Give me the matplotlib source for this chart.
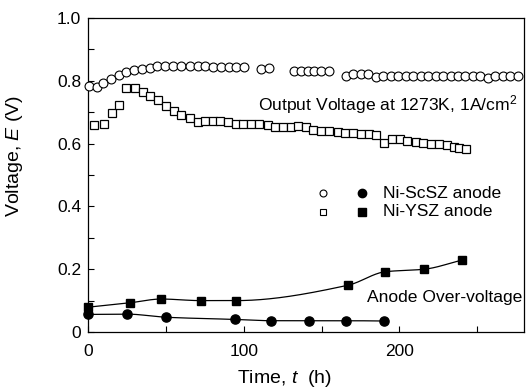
import numpy as np
import matplotlib
matplotlib.use("Agg")
import matplotlib.pyplot as plt

plt.rcParams['font.family'] = ['Liberation Sans', 'DejaVu Sans']
plt.rcParams['mathtext.fontset'] = 'custom'
plt.rcParams['mathtext.it'] = 'Liberation Sans:italic'
plt.rcParams['mathtext.rm'] = 'Liberation Sans'

# Output voltage, Ni-ScSZ anode (open circles)
t_scsz_out = [0.6, 5.5, 9.8, 14.7, 19.8, 24.7, 29.6, 34.7, 39.7, 44.6, 49.3, 54.6, 60.0,
              65.3, 70.6, 75.3, 80.2, 85.1, 90.3, 95.2, 100.0, 111.0, 116.5,
              132.5, 136.8, 141.0, 145.3, 149.6, 154.5,
              165.6, 170.3, 175.2, 180.0, 184.8, 189.5, 194.4, 199.2, 204.0, 208.8,
              213.6, 218.4, 223.2, 228.0, 232.8, 237.6, 242.4, 247.2, 252.0, 256.9,
              261.6, 266.4, 271.2, 276.0]
v_scsz_out = [0.783, 0.781, 0.794, 0.806, 0.818, 0.829, 0.834, 0.838, 0.840, 0.848, 0.848,
              0.848, 0.848, 0.847, 0.848, 0.847, 0.845, 0.843, 0.843, 0.843, 0.843,
              0.838, 0.840,
              0.831, 0.831, 0.831, 0.831, 0.831, 0.831,
              0.816, 0.821, 0.822, 0.821, 0.813, 0.816, 0.816, 0.816, 0.816, 0.816,
              0.816, 0.816, 0.816, 0.816, 0.816, 0.816, 0.816, 0.816, 0.815, 0.808,
              0.814, 0.816, 0.816, 0.816]

# Output voltage, Ni-YSZ anode (open squares)
t_ysz_out = [4.0, 10.2, 15.2, 20.0, 24.7, 30.0, 35.0, 40.0, 45.0, 50.0, 55.0, 60.0, 65.3,
             70.6, 75.0, 80.0, 85.0, 90.0, 95.0, 99.5, 104.7, 110.0, 115.5, 120.4, 125.0,
             130.4, 135.0, 140.0, 144.7, 149.6, 155.0, 160.3, 165.0, 170.0, 175.0, 180.5,
             184.8, 190.0, 195.5, 200.4, 205.0, 210.4, 215.3, 220.0, 225.4, 230.3, 235.0,
             238.0, 242.8]
v_ysz_out = [0.659, 0.662, 0.696, 0.723, 0.778, 0.776, 0.765, 0.753, 0.739, 0.721, 0.704,
             0.691, 0.683, 0.670, 0.672, 0.672, 0.672, 0.670, 0.664, 0.662, 0.662, 0.662,
             0.659, 0.654, 0.654, 0.654, 0.656, 0.654, 0.643, 0.641, 0.640, 0.638, 0.633,
             0.633, 0.629, 0.629, 0.627, 0.603, 0.614, 0.614, 0.609, 0.605, 0.601, 0.599,
             0.598, 0.594, 0.590, 0.585, 0.582]

# Anode over-voltage, Ni-YSZ (filled squares)
t_ysz_ov = [0.0, 27.0, 47.0, 72.3, 95.0, 167.0, 191.0, 216.0, 240.0]
v_ysz_ov = [0.079, 0.093, 0.105, 0.100, 0.100, 0.149, 0.192, 0.200, 0.229]

# Anode over-voltage, Ni-ScSZ (filled circles)
t_scsz_ov = [0.0, 25.0, 50.0, 94.5, 117.6, 141.7, 166.0, 190.0]
v_scsz_ov = [0.056, 0.057, 0.047, 0.040, 0.036, 0.036, 0.036, 0.035]

xticks = [0, 100, 200]
yticks = [0.0, 0.2, 0.4, 0.6, 0.8, 1.0]
ytick_labels = ['0', '0.2', '0.4', '0.6', '0.8', '1.0']


def pchip(x, y, xs):
    x = np.asarray(x, float); y = np.asarray(y, float)
    h = np.diff(x); d = np.diff(y) / h
    n = len(x); m = np.zeros(n)
    for k in range(1, n - 1):
        if d[k - 1] * d[k] > 0:
            w1 = 2 * h[k] + h[k - 1]; w2 = h[k] + 2 * h[k - 1]
            m[k] = (w1 + w2) / (w1 / d[k - 1] + w2 / d[k])
    m[0] = d[0]; m[-1] = d[-1]
    idx = np.clip(np.searchsorted(x, xs) - 1, 0, n - 2)
    hh = h[idx]; s = (xs - x[idx]) / hh
    h00 = 2 * s**3 - 3 * s**2 + 1; h10 = s**3 - 2 * s**2 + s
    h01 = -2 * s**3 + 3 * s**2; h11 = s**3 - s**2
    return h00 * y[idx] + h10 * hh * m[idx] + h01 * y[idx + 1] + h11 * hh * m[idx + 1]


fig = plt.figure(figsize=(5.27, 3.9), dpi=100)
ax = fig.add_axes([88 / 527, 58 / 390, 436 / 527, 314 / 390])

ms = 6.4
ax.plot(t_scsz_out, v_scsz_out, 'o', ms=ms, mfc='white', mec='black', mew=0.8, clip_on=False, zorder=3)
ax.plot(t_ysz_out, v_ysz_out, 's', ms=6.0, mfc='white', mec='black', mew=0.9, clip_on=False, zorder=3)

for tt, vv, mk, fms in [(t_ysz_ov, v_ysz_ov, 's', 6.4), (t_scsz_ov, v_scsz_ov, 'o', 6.6)]:
    xs = np.linspace(tt[0], tt[-1], 300)
    ax.plot(xs, pchip(tt, vv, xs), '-', color='black', lw=0.9, zorder=2)
    ax.plot(tt, vv, mk, ms=fms, mfc='black', mec='black', clip_on=False, zorder=3)

ax.set_xlim(0, 280)
ax.set_ylim(0, 1.0)
ax.set_xticks(xticks)
ax.set_xticks([50, 150, 250], minor=True)
ax.set_yticks(yticks)
ax.set_yticklabels(ytick_labels)
ax.set_yticks([0.1, 0.3, 0.5, 0.7, 0.9], minor=True)
ax.tick_params(which='both', direction='in', length=4, width=0.8, labelsize=12.5)
ax.tick_params(axis='x', pad=9)
ax.tick_params(axis='y', pad=5)
for sp in ax.spines.values():
    sp.set_linewidth(0.9)

ax.set_xlabel('Time, $t$  (h)', fontsize=14)
ax.xaxis.set_label_coords(0.45, -0.115)
ax.set_ylabel('Voltage, $E$ (V)', fontsize=14)
ax.yaxis.set_label_coords(-0.145, 0.56)

ax.text(0.391, 0.724, 'Output Voltage at 1273K, 1A/cm$^2$', transform=ax.transAxes,
        fontsize=12.6, va='center', ha='left')
ax.text(0.64, 0.109, 'Anode Over-voltage', transform=ax.transAxes,
        fontsize=12.6, va='center', ha='left')

# legend built by hand
lx1, lx2, ltx = (323.3 - 88) / 436, (361.7 - 88) / 436, (383 - 88) / 436
ly1, ly2 = (332 - 193.3) / 314, (332 - 211.7) / 314
ax.plot([lx1], [ly1], 'o', ms=5.0, mfc='white', mec='black', mew=0.8, transform=ax.transAxes)
ax.plot([lx2], [ly1], 'o', ms=6.0, mfc='black', mec='black', transform=ax.transAxes)
ax.plot([lx1], [ly2], 's', ms=5.0, mfc='white', mec='black', mew=0.8, transform=ax.transAxes)
ax.plot([lx2], [ly2], 's', ms=5.6, mfc='black', mec='black', transform=ax.transAxes)
ax.text(ltx, ly1, 'Ni-ScSZ anode', transform=ax.transAxes, fontsize=12.6, va='center', ha='left')
ax.text(ltx, ly2, 'Ni-YSZ anode', transform=ax.transAxes, fontsize=12.6, va='center', ha='left')

fig.savefig('out.png', dpi=100)
